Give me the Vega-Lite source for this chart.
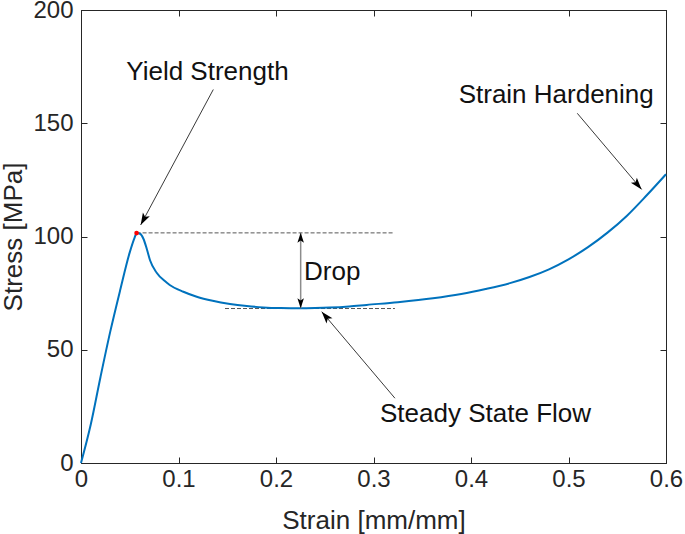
{
  "$schema": "https://vega.github.io/schema/vega-lite/v6.json",
  "width": 585,
  "height": 453,
  "autosize": {"type": "none"},
  "padding": {"left": 81, "top": 10, "right": 19, "bottom": 71},
  "background": "white",
  "config": {
    "font": "Liberation Sans",
    "view": {"stroke": "#262626", "strokeWidth": 1},
    "axis": {
      "grid": false,
      "domainColor": "#262626",
      "tickColor": "#262626",
      "labelColor": "#262626",
      "titleColor": "#262626",
      "labelFont": "Liberation Sans",
      "titleFont": "Liberation Sans",
      "labelFontSize": 24,
      "titleFontSize": 26,
      "titleFontWeight": "normal",
      "labelFlush": false,
      "labelOverlap": false,
      "tickSize": -6,
      "tickWidth": 1,
      "domainWidth": 1
    }
  },
  "datasets": {
    "curve": [
      {"strain": 0, "stress": 0},
      {"strain": 0.01, "stress": 17},
      {"strain": 0.02, "stress": 38},
      {"strain": 0.03, "stress": 58},
      {"strain": 0.04, "stress": 76},
      {"strain": 0.05, "stress": 93},
      {"strain": 0.055, "stress": 99.5},
      {"strain": 0.057, "stress": 101.5},
      {"strain": 0.0605, "stress": 101.2},
      {"strain": 0.064, "stress": 99},
      {"strain": 0.0675, "stress": 94.5},
      {"strain": 0.0708, "stress": 89.5},
      {"strain": 0.0776, "stress": 84},
      {"strain": 0.086, "stress": 80.3},
      {"strain": 0.091, "stress": 78.6},
      {"strain": 0.105, "stress": 75.6},
      {"strain": 0.1187, "stress": 73.4},
      {"strain": 0.135, "stress": 71.6},
      {"strain": 0.1528, "stress": 70.2},
      {"strain": 0.17, "stress": 69.3},
      {"strain": 0.187, "stress": 68.7},
      {"strain": 0.205, "stress": 68.4},
      {"strain": 0.2246, "stress": 68.3},
      {"strain": 0.24, "stress": 68.4},
      {"strain": 0.255, "stress": 68.6},
      {"strain": 0.275, "stress": 69.1},
      {"strain": 0.293, "stress": 69.8},
      {"strain": 0.325, "stress": 71.0},
      {"strain": 0.361, "stress": 72.7},
      {"strain": 0.39, "stress": 74.6},
      {"strain": 0.415, "stress": 76.8},
      {"strain": 0.44, "stress": 79.4},
      {"strain": 0.46, "stress": 82.1},
      {"strain": 0.48, "stress": 85.5},
      {"strain": 0.5, "stress": 89.9},
      {"strain": 0.52, "stress": 95.3},
      {"strain": 0.54, "stress": 101.7},
      {"strain": 0.56, "stress": 109.2},
      {"strain": 0.58, "stress": 118.1},
      {"strain": 0.6, "stress": 127.5}
    ],
    "refs": [
      {"x": 0.057, "y": 101.6, "x2": 0.3203, "y2": 101.6},
      {"x": 0.1477, "y": 68.2, "x2": 0.322, "y2": 68.2}
    ],
    "drop": [
      {"x": 0.2253, "y": 101.7, "y2": 68.3}
    ],
    "arrows": [
      {"name": "yield", "x": 0.1357, "y": 164.9, "x2": 0.0612, "y2": 105.1},
      {"name": "hardening", "x": 0.509, "y": 154.4, "x2": 0.575, "y2": 120.8},
      {"name": "steady", "x": 0.322, "y": 28.6, "x2": 0.2469, "y2": 66.8}
    ],
    "yieldpt": [
      {"strain": 0.057, "stress": 101.5}
    ],
    "labels": [
      {"label": "Yield Strength", "x": 0.1297, "y": 169.1},
      {"label": "Strain Hardening", "x": 0.4874, "y": 159.1},
      {"label": "Steady State Flow", "x": 0.4149, "y": 18.2},
      {"label": "Drop", "x": 0.2577, "y": 80.8}
    ]
  },
  "resolve": {"axis": {"x": "independent", "y": "independent"}},
  "layer": [
    {
      "data": {"name": "refs"},
      "mark": {"type": "rule", "color": "#555555", "strokeWidth": 1, "strokeDash": [4, 2]},
      "encoding": {
        "x": {"field": "x", "type": "quantitative", "scale": {"domain": [0, 0.6], "nice": false}, "axis": null},
        "y": {"field": "y", "type": "quantitative", "scale": {"domain": [0, 200], "nice": false}, "axis": null},
        "x2": {"field": "x2"},
        "y2": {"field": "y2"}
      }
    },
    {
      "data": {"name": "curve"},
      "mark": {"type": "line", "color": "#0072BD", "strokeWidth": 2, "interpolate": "monotone"},
      "encoding": {
        "x": {
          "field": "strain", "type": "quantitative",
          "scale": {"domain": [0, 0.6], "nice": false},
          "axis": {
            "orient": "bottom",
            "values": [0, 0.1, 0.2, 0.3, 0.4, 0.5, 0.6],
            "labelExpr": "datum.value == 0 ? '0' : format(datum.value, '.1f')",
            "labelPadding": 10,
            "title": "Strain [mm/mm]",
            "titleBaseline": "alphabetic",
            "titleY": 65
          }
        },
        "y": {
          "field": "stress", "type": "quantitative",
          "scale": {"domain": [0, 200], "nice": false},
          "axis": {
            "orient": "left",
            "values": [0, 50, 100, 150, 200],
            "labelPadding": 14,
            "title": "Stress [MPa]",
            "titleBaseline": "alphabetic",
            "titleX": -60,
            "titleY": 226.5
          }
        }
      }
    },
    {
      "data": {"name": "drop"},
      "mark": {"type": "rule", "color": "#8c8c8c", "strokeWidth": 1.5},
      "encoding": {
        "x": {"field": "x", "type": "quantitative", "axis": null},
        "y": {"field": "y", "type": "quantitative", "axis": null},
        "y2": {"field": "y2"}
      }
    },
    {
      "data": {"name": "arrows"},
      "mark": {"type": "rule", "color": "#3a3a3a", "strokeWidth": 1},
      "encoding": {
        "x": {"field": "x", "type": "quantitative", "axis": null},
        "y": {"field": "y", "type": "quantitative", "axis": null},
        "x2": {"field": "x2"},
        "y2": {"field": "y2"}
      }
    },
    {
      "data": {"values": [{"x": 0.0612, "y": 105.1}]},
      "mark": {"type": "point", "shape": "M0,0L-0.65,2L0,1.55L0.65,2Z", "filled": true, "color": "black", "opacity": 1, "size": 144, "angle": 208.3, "strokeWidth": 0},
      "encoding": {
        "x": {"field": "x", "type": "quantitative", "axis": null},
        "y": {"field": "y", "type": "quantitative", "axis": null}
      }
    },
    {
      "data": {"values": [{"x": 0.575, "y": 120.8}]},
      "mark": {"type": "point", "shape": "M0,0L-0.65,2L0,1.55L0.65,2Z", "filled": true, "color": "black", "opacity": 1, "size": 144, "angle": 139.7, "strokeWidth": 0},
      "encoding": {
        "x": {"field": "x", "type": "quantitative", "axis": null},
        "y": {"field": "y", "type": "quantitative", "axis": null}
      }
    },
    {
      "data": {"values": [{"x": 0.2469, "y": 66.8}]},
      "mark": {"type": "point", "shape": "M0,0L-0.65,2L0,1.55L0.65,2Z", "filled": true, "color": "black", "opacity": 1, "size": 144, "angle": 319.8, "strokeWidth": 0},
      "encoding": {
        "x": {"field": "x", "type": "quantitative", "axis": null},
        "y": {"field": "y", "type": "quantitative", "axis": null}
      }
    },
    {
      "data": {"values": [{"x": 0.2253, "y": 101.7}]},
      "mark": {"type": "point", "shape": "M0,0L-0.65,2L0,1.55L0.65,2Z", "filled": true, "color": "black", "opacity": 1, "size": 100, "angle": 0, "strokeWidth": 0},
      "encoding": {
        "x": {"field": "x", "type": "quantitative", "axis": null},
        "y": {"field": "y", "type": "quantitative", "axis": null}
      }
    },
    {
      "data": {"values": [{"x": 0.2253, "y": 68.3}]},
      "mark": {"type": "point", "shape": "M0,0L-0.65,2L0,1.55L0.65,2Z", "filled": true, "color": "black", "opacity": 1, "size": 100, "angle": 180, "strokeWidth": 0},
      "encoding": {
        "x": {"field": "x", "type": "quantitative", "axis": null},
        "y": {"field": "y", "type": "quantitative", "axis": null}
      }
    },
    {
      "data": {"name": "yieldpt"},
      "mark": {"type": "circle", "color": "#ff0000", "opacity": 1, "size": 22},
      "encoding": {
        "x": {
          "field": "strain", "type": "quantitative",
          "axis": {"orient": "top", "values": [0, 0.1, 0.2, 0.3, 0.4, 0.5, 0.6], "labels": false, "title": null}
        },
        "y": {
          "field": "stress", "type": "quantitative",
          "axis": {"orient": "right", "values": [0, 50, 100, 150, 200], "labels": false, "title": null}
        }
      }
    },
    {
      "data": {"name": "labels"},
      "mark": {"type": "text", "font": "Liberation Sans", "fontSize": 26, "color": "#111111", "align": "center", "baseline": "alphabetic"},
      "encoding": {
        "x": {"field": "x", "type": "quantitative", "axis": null},
        "y": {"field": "y", "type": "quantitative", "axis": null},
        "text": {"field": "label"}
      }
    }
  ]
}
